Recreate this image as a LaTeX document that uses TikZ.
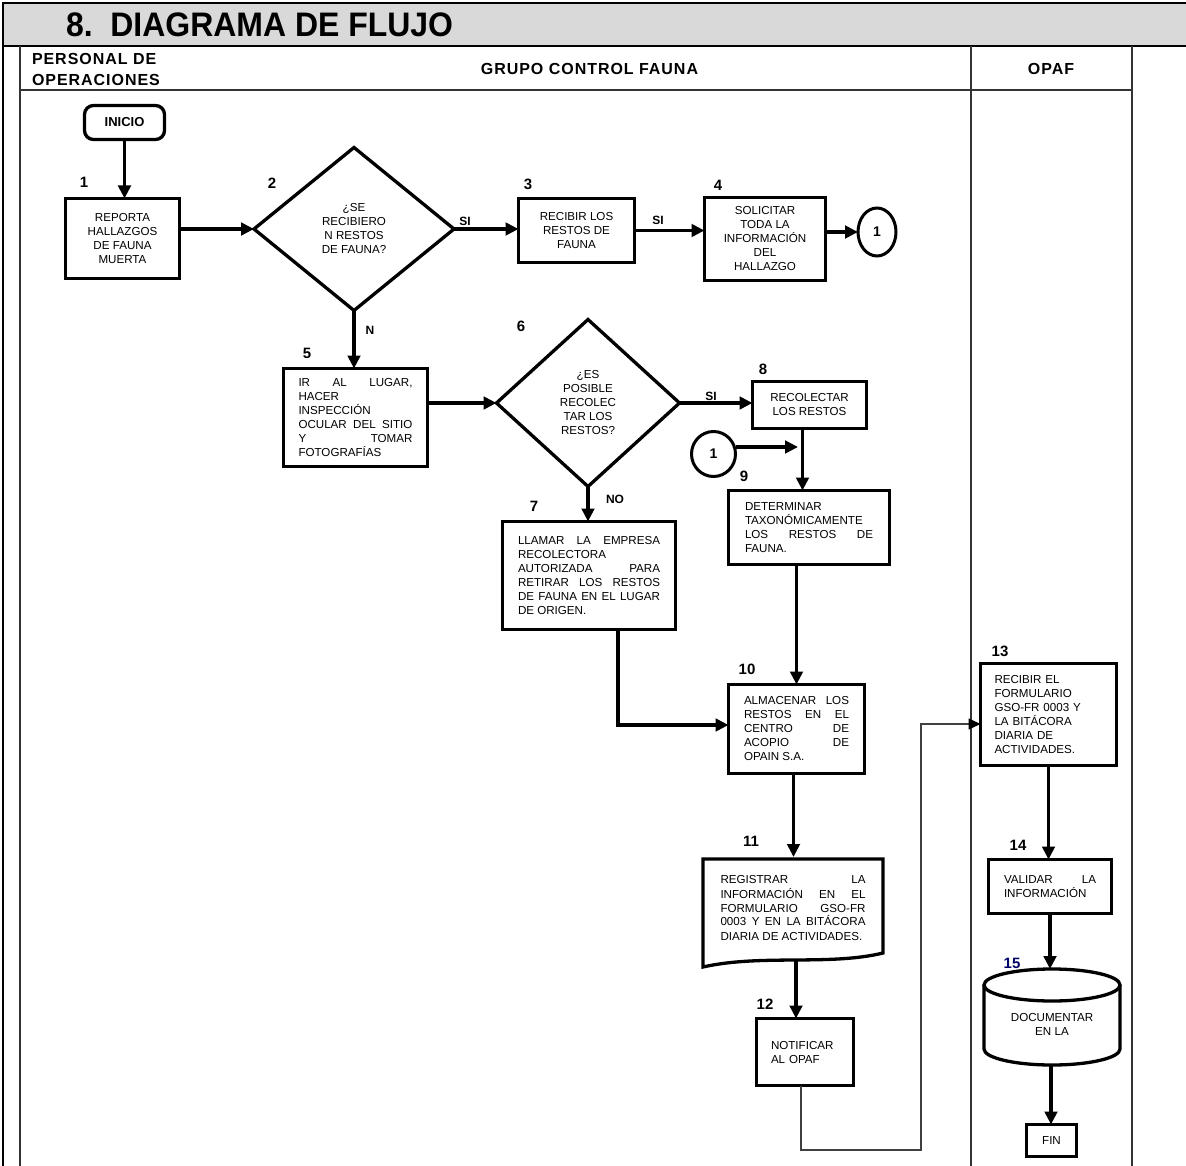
\documentclass[tikz,border=0pt]{standalone}
\usepackage{fontspec}
\usepackage{graphicx}
\setmainfont{Liberation Sans}
\usetikzlibrary{arrows.meta,shapes.geometric,calc}
\newcommand\jl[2]{\makebox[#1][s]{#2}}
\newcommand\bodyf{\fontsize{11.6}{14}\selectfont}
\newcommand\hdrf{\fontsize{16}{21}\bfseries\addfontfeatures{LetterSpace=6}\selectfont}
\begin{document}
\begin{tikzpicture}[x=1pt,y=-1pt,
  every node/.style={inner sep=0pt,outer sep=0pt},
  proc/.style={draw,line width=3.3pt,line join=miter,font=\bodyf,align=center},
  dec/.style={diamond,draw,line width=3.3pt,line join=miter,font=\bodyf,align=center},
  conn/.style={ellipse,draw,line width=3pt,font=\fontsize{14}{14}\bfseries\selectfont},
  arr/.style={line width=3.3pt,-{Triangle[length=13pt,width=12.5pt]}},
  thinarr/.style={line width=1.2pt,draw=black!75,-{Triangle[length=12pt,width=11pt,color=black]}},
  tab/.style={line width=1.3pt,draw=black!80},
  num/.style={font=\fontsize{15}{15}\bfseries\selectfont},
  yn/.style={font=\fontsize{12}{12}\bfseries\selectfont},
  hdr/.style={font=\hdrf}]
\useasboundingbox (0,0) rectangle (1186,1166);
% title band
\draw[line width=2pt,fill=gray!30] (3,3) rectangle (1195,46);
\draw[line width=2pt] (3,46) -- (3,1170);
\node[anchor=west] (title) at (66,25) {\fontsize{34}{34}\bfseries\selectfont\scalebox{0.94}[1]{8.\ \ DIAGRAMA DE FLUJO}};
% table
\draw[tab] (20,46) -- (20,1170);
\draw[tab] (20,90) -- (1132,90);
\draw[tab] (971,46) -- (971,1170);
\draw[tab] (1132,46) -- (1132,1170);
\node[hdr,anchor=west,align=left] (hpers) at (32,69) {PERSONAL DE\\OPERACIONES};
\node[hdr] (hgrupo) at (589.5,69) {GRUPO CONTROL FAUNA};
\node[hdr] (hopaf) at (1051,69) {OPAF};
% nodes
\node[draw,line width=3.3pt,rounded corners=9pt,minimum width=80pt,minimum height=34pt,font=\fontsize{13}{13}\bfseries\selectfont] (ini) at (124.5,122.5) {INICIO};
\node[proc,minimum width=114pt,minimum height=80pt] (b1) at (122.5,238.5) {REPORTA\\HALLAZGOS\\DE FAUNA\\MUERTA};
\node[dec,minimum width=200pt,minimum height=163pt] (d2) at (354,229) {¿SE\\RECIBIERO\\N RESTOS\\DE FAUNA?};
\node[proc,minimum width=116pt,minimum height=64pt] (b3) at (576.5,230.5) {RECIBIR LOS\\RESTOS DE\\FAUNA};
\node[proc,minimum width=121pt,minimum height=83pt] (b4) at (765,239) {SOLICITAR\\TODA LA\\INFORMACIÓN\\DEL\\HALLAZGO};
\node[conn,minimum width=38pt,minimum height=48pt] (c1) at (877,232) {1};
\node[proc,align=left,minimum width=144pt,minimum height=98pt] (b5) at (355.5,417.5) {\jl{114pt}{IR AL LUGAR,}\\HACER\\INSPECCIÓN\\\jl{114pt}{OCULAR DEL SITIO}\\\jl{114pt}{Y TOMAR}\\FOTOGRAFÍAS};
\node[dec,minimum width=183pt,minimum height=167pt] (d6) at (588,403) {¿ES\\POSIBLE\\RECOLEC\\TAR LOS\\RESTOS?};
\node[proc,minimum width=114pt,minimum height=47pt] (b8) at (809.5,405) {RECOLECTAR\\LOS RESTOS};
\node[conn,minimum width=44pt,minimum height=45pt] (c2) at (713.5,454) {1};
\node[proc,align=left,minimum width=161pt,minimum height=74pt] (b9) at (809,527.5) {DETERMINAR\\TAXONÓMICAMENTE\\\jl{128pt}{LOS RESTOS DE}\\FAUNA.};
\node[proc,align=left,minimum width=173pt,minimum height=108pt] (b7) at (589,575.5) {\jl{142pt}{LLAMAR LA EMPRESA}\\RECOLECTORA\\\jl{142pt}{AUTORIZADA PARA}\\\jl{142pt}{RETIRAR LOS RESTOS}\\\jl{142pt}{DE FAUNA EN EL LUGAR}\\DE ORIGEN.};
\node[proc,align=left,minimum width=136pt,minimum height=89pt] (b10) at (796.5,729) {\jl{105pt}{ALMACENAR LOS}\\\jl{105pt}{RESTOS EN EL}\\\jl{105pt}{CENTRO DE}\\\jl{105pt}{ACOPIO DE}\\OPAIN S.A.};
\node[font=\bodyf,align=left,minimum width=180pt,minimum height=102pt] (b11) at (793,908) {\jl{145pt}{REGISTRAR LA}\\\jl{145pt}{INFORMACIÓN EN EL}\\\jl{145pt}{FORMULARIO GSO-FR}\\\jl{145pt}{0003 Y EN LA BITÁCORA}\\DIARIA DE ACTIVIDADES.};
\draw[line width=3.3pt,line join=miter] (703,859) -- (883,859) -- (883,953) .. controls (830,966) and (760,954) .. (703,967) -- cycle;
\node[proc,align=left,text width=68pt,minimum width=97pt,minimum height=67pt] (b12) at (805,1052) {NOTIFICAR\\AL OPAF};
\node[proc,align=left,text width=108pt,minimum width=136pt,minimum height=102pt] (b13) at (1048.5,714.5) {RECIBIR EL\\FORMULARIO\\GSO-FR 0003 Y\\LA BITÁCORA\\DIARIA DE\\ACTIVIDADES.};
\node[proc,align=left,minimum width=123pt,minimum height=54pt] (b14) at (1050,886.5) {\jl{92pt}{VALIDAR LA}\\INFORMACIÓN};
% cylinder 15
\draw[line width=3.3pt] (1052,985) ellipse [x radius=68pt,y radius=16pt];
\draw[line width=3.3pt] (984,985) -- (984,1049) arc[start angle=180,end angle=360,x radius=68pt,y radius=16pt] -- (1120,985);
\node[font=\bodyf,align=center] (c15) at (1052,1024) {DOCUMENTAR\\EN LA};
\coordinate (c15t) at (1051,969);
\coordinate (c15b) at (1051,1065);
\node[proc,minimum width=50pt,minimum height=32pt] (fin) at (1051.5,1140.5) {FIN};
% number labels
\node[num] (n1) at (84,182) {1};
\node[num] (n2) at (272,183) {2};
\node[num] (n3) at (528,184) {3};
\node[num] (n4) at (718,185) {4};
\node[num] (n5) at (307,353) {5};
\node[num] (n6) at (521,326) {6};
\node[num] (n7) at (534,506) {7};
\node[num] (n8) at (763,369) {8};
\node[num] (n9) at (744,476) {9};
\node[num] (n10) at (747,669) {10};
\node[num] (n11) at (751,841) {11};
\node[num] (n12) at (765,1004) {12};
\node[num] (n13) at (1000,651) {13};
\node[num] (n14) at (1018,845) {14};
\node[num,text=blue!40!black] (n15) at (1012,963) {15};
% yes/no labels
\node[yn] (l1) at (465,221) {SI};
\node[yn] (l2) at (658,220) {SI};
\node[yn] (l3) at (370,330) {N};
\node[yn] (l4) at (711,396) {SI};
\node[yn] (l5) at (615,499) {NO};
% connectors
\draw[arr] (ini.south) -- (ini.south |- b1.north);
\draw[arr] (b1.east |- d2.west) -- (d2.west);
\draw[arr] (d2.east) -- (d2.east -| b3.west);
\draw[arr] (b3.east) -- (b3.east -| b4.west);
\draw[arr] (c1.west -| b4.east) -- (c1.west);
\draw[arr] (d2.south) -- (d2.south |- b5.north);
\draw[arr] (b5.east |- d6.west) -- (d6.west);
\draw[arr] (d6.east) -- (d6.east -| b8.west);
\draw[arr] ([xshift=-7pt]b8.south) -- ([xshift=-7pt]b8.south |- b9.north);
\coordinate (j1) at (798,447);
\draw[arr] (c2.east |- j1) -- (j1);
\draw[arr] (d6.south) -- (d6.south |- b7.north);
\draw[arr] ([xshift=29pt]b7.south) |- ([yshift=4pt]b10.west);
\draw[arr] (b10.north |- b9.south) -- (b10.north);
\draw[arr] ([xshift=-3pt]b10.south) -- ([xshift=-3pt]b10.south |- b11.north);
\draw[arr] ([xshift=3pt]b11.south) -- ([xshift=3pt]b11.south |- b12.north);
\coordinate (r1) at (921,1150);
\draw[thinarr] ([xshift=-4pt]b12.south) |- (r1) |- ([yshift=-9.5pt]b13.west);
\draw[arr] (b13.south) -- (b13.south |- b14.north);
\draw[arr] (b14.south) -- (b14.south |- c15t);
\draw[arr] (c15b) -- (c15b |- fin.north);
\end{tikzpicture}
\end{document}
